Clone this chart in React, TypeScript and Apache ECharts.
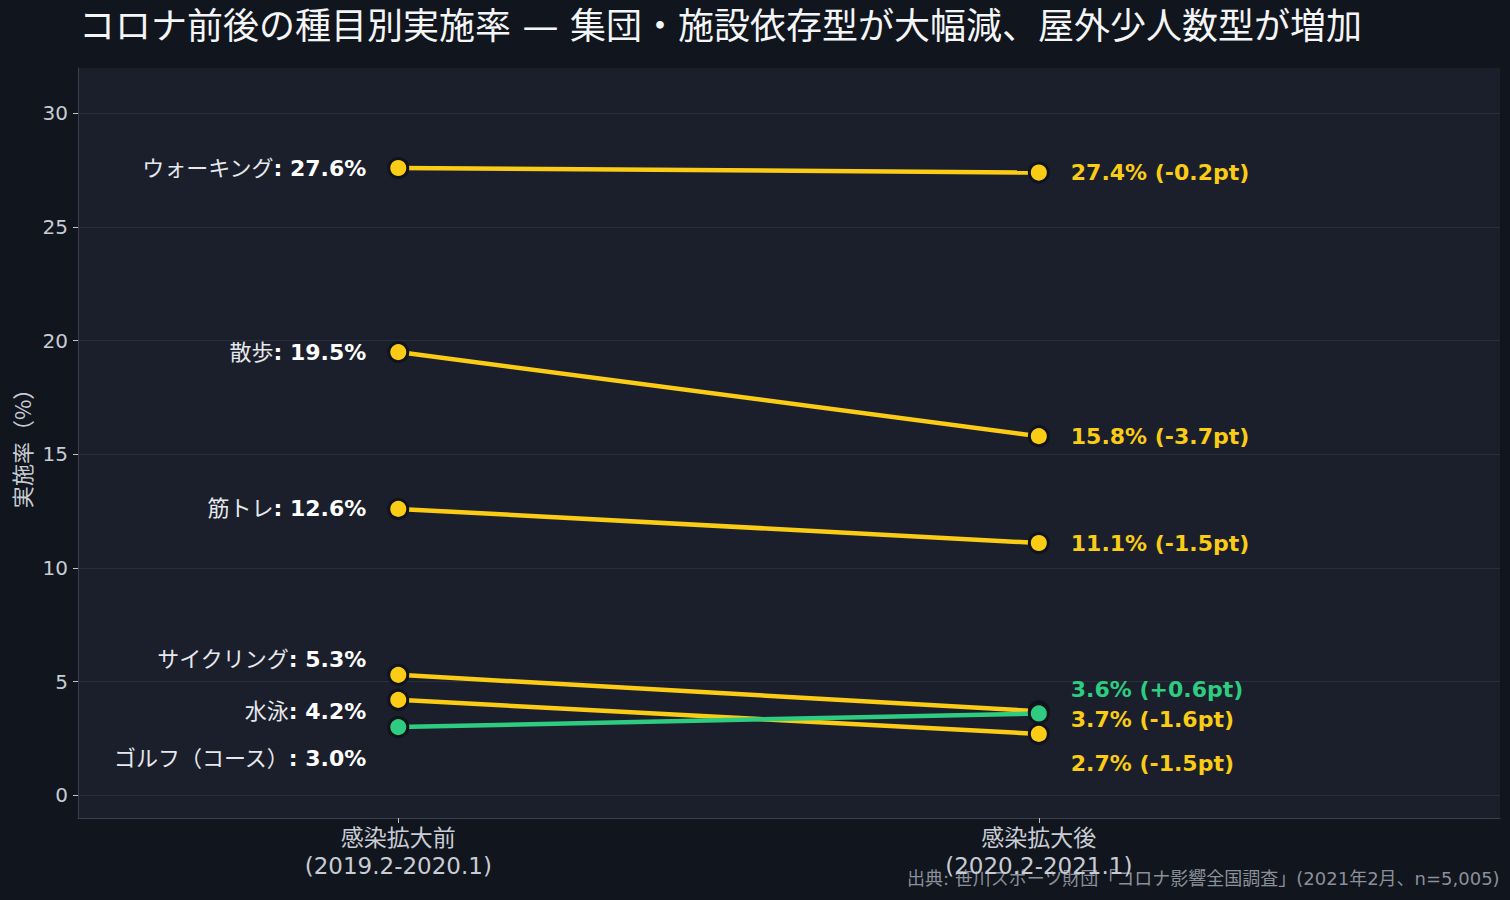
import { useEffect, useRef } from "react";
import * as echarts from "echarts";

const sports = ["ウォーキング", "散歩", "筋トレ", "サイクリング", "水泳", "ゴルフ（コース）"];
const beforeRates = [27.6, 19.5, 12.6, 5.3, 4.2, 3.0];
const afterRates = [27.4, 15.8, 11.1, 3.7, 2.7, 3.6];
const periodLabels = ["感染拡大前\n(2019.2-2020.1)", "感染拡大後\n(2020.2-2021.1)"];
const periodTicks = [0, 1];
const yTicks = [0, 5, 10, 15, 20, 25, 30];

const TITLE = "コロナ前後の種目別実施率 — 集団・施設依存型が大幅減、屋外少人数型が増加";
const SOURCE = "出典: 笹川スポーツ財団「コロナ影響全国調査」(2021年2月、n=5,005)";

const FONT = "'DejaVu Sans', 'Noto Sans CJK JP', sans-serif";
const CJK_FONT = "Noto Sans CJK JP";
const YELLOW = "#facc15";
const GREEN = "#2ecc80";
const BG = "#11151d";
const PLOT_BG = "#1a1f2b";
const AXIS = "#3a3f4e";

// vertical nudges (px) so the crowded labels at the bottom don't collide
const leftShift = [0, 0, 0, -15, 12, 31];
const rightShift = [0, 0, 0, 8, 30, -24];

export default function App() {
  const chartRef = useRef<HTMLDivElement>(null);

  useEffect(() => {
    document.body.style.margin = "0";
    if (!chartRef.current) return;
    const chart = echarts.init(chartRef.current, null, { renderer: "svg" });

    const series = sports.map((name, i) => {
      const before = beforeRates[i];
      const after = afterRates[i];
      const diff = after - before;
      const color = diff > 0 ? GREEN : YELLOW;
      const sign = diff > 0 ? "+" : "";
      return {
        name,
        type: "line",
        z: diff > 0 ? 4 : 3,
        data: [
          {
            value: [0, before],
            label: {
              show: true,
              position: "left",
              distance: 21,
              offset: [0, leftShift[i]],
              formatter: `{n|${name}}{v|: ${before.toFixed(1)}%}`,
              rich: {
                n: { fontFamily: FONT, fontSize: 22, color: "#e6e8ec" },
                v: { fontFamily: FONT, fontSize: 22, fontWeight: "bold", color: "#ffffff" },
              },
            },
          },
          {
            value: [1, after],
            label: {
              show: true,
              position: "right",
              distance: 21,
              offset: [0, rightShift[i]],
              formatter: `${after.toFixed(1)}% (${sign}${diff.toFixed(1)}pt)`,
              fontFamily: FONT,
              fontSize: 22,
              fontWeight: "bold",
              color,
            },
          },
        ],
        symbol: "circle",
        symbolSize: 19,
        lineStyle: { width: 4.5, color },
        itemStyle: { color, borderColor: "#10131a", borderWidth: 3 },
        emphasis: { disabled: true },
      };
    });

    chart.setOption({
      animation: false,
      backgroundColor: BG,
      textStyle: { fontFamily: FONT },
      title: {
        text: TITLE,
        left: 74,
        top: 3,
        textStyle: { fontFamily: FONT, fontSize: 36, fontWeight: "normal", color: "#f4f5f7" },
      },
      graphic: [
        {
          type: "text",
          right: 10,
          top: 869,
          style: { text: SOURCE, fontFamily: FONT, fontSize: 18, fill: "#8b909a" },
        },
      ],
      grid: {
        left: 78,
        right: 10,
        top: 68,
        bottom: 82,
        show: true,
        backgroundColor: PLOT_BG,
        borderWidth: 0,
      },
      xAxis: {
        type: "value",
        min: -0.5,
        max: 1.72,
        axisLine: { show: true, onZero: false, lineStyle: { color: AXIS, width: 1 } },
        axisTick: { show: true, customValues: periodTicks, length: 5, lineStyle: { color: "#c0c4cc" } },
        axisLabel: {
          customValues: periodTicks,
          formatter: (v: number) => periodLabels[Math.round(v)] ?? "",
          color: "#c8ccd4",
          fontFamily: FONT,
          fontSize: 23,
          lineHeight: 28,
          margin: 6,
        },
        splitLine: { show: false },
      },
      yAxis: {
        type: "value",
        min: -1,
        max: 32,
        name: "実施率（%）",
        nameLocation: "middle",
        nameGap: 46,
        nameTextStyle: { color: "#c8ccd4", fontFamily: CJK_FONT, fontSize: 22 },
        axisLine: { show: true, onZero: false, lineStyle: { color: AXIS, width: 1 } },
        axisTick: { show: true, customValues: yTicks, length: 5, lineStyle: { color: "#c0c4cc" } },
        axisLabel: {
          customValues: yTicks,
          color: "#c8ccd4",
          fontFamily: FONT,
          fontSize: 20,
          margin: 10,
        },
        splitLine: { show: true, lineStyle: { color: "#2a2f3c", width: 1 } },
      },
      series,
    });

    return () => chart.dispose();
  }, []);

  return <div ref={chartRef} style={{ width: 1510, height: 900 }} />;
}
